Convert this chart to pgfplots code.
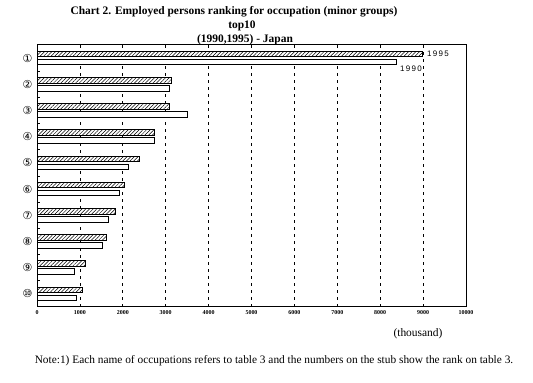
\documentclass[border=0pt]{standalone}
\usepackage{fontspec}
\setmainfont{Liberation Serif}
\newfontfamily\dejavu{DejaVu Sans}
\newfontfamily\lsans{Liberation Sans}
\usepackage{pgfplots}
\pgfplotsset{compat=1.18}
\usetikzlibrary{patterns.meta}

\begin{document}
\begin{tikzpicture}
\path[use as bounding box] (0,0) rectangle (533bp,383bp);
\begin{axis}[
  at={(37bp,76bp)}, anchor=south west,
  scale only axis, width=429bp, height=262bp,
  xbar, bar width=5.5bp,
  xmin=0, xmax=10000, ymin=0.5, ymax=10.5,
  scaled x ticks=false,
  xtick={0,1000,2000,3000,4000,5000,6000,7000,8000,9000,10000},
  xticklabels={0,1000,2000,3000,4000,5000,6000,7000,8000,9000,10000},
  xtick pos=both, tick align=inside, major tick length=3bp,
  xmajorgrids,
  major grid style={black, dash pattern=on 3bp off 4bp, line width=0.8bp},
  ytick={1.5,2.5,3.5,4.5,5.5,6.5,7.5,8.5,9.5}, yticklabels={}, ytick pos=left,
  extra y ticks={1,2,3,4,5,6,7,8,9,10},
  extra y tick labels={⑩,⑨,⑧,⑦,⑥,⑤,④,③,②,①},
  extra y tick style={major tick length=0pt},
  yticklabel style={font=\dejavu\fontsize{11}{12}\selectfont, xshift=-1bp},
  xticklabel style={font=\bfseries\fontsize{6}{7}\selectfont},
  axis line style={line width=1bp},
  tick style={black, line width=0.8bp},
]
\addplot[draw=black, line width=1bp, bar shift=4bp,
  preaction={fill=white},
  pattern={Lines[angle=45,distance=2.6bp,line width=0.5bp]}]
  coordinates {(8980,10) (3124,9) (3080,8) (2750,7) (2400,6) (2030,5) (1820,4) (1610,3) (1125,2) (1055,1)};
\addplot[draw=black, fill=white, line width=1bp, bar shift=-4bp]
  coordinates {(8370,10) (3080,9) (3500,8) (2730,7) (2125,6) (1915,5) (1660,4) (1520,3) (870,2) (915,1)};
\node[anchor=west, inner sep=0pt, yshift=4bp, font=\lsans\fontsize{8}{9}\selectfont] at (axis cs:9090,10) {1\,9\,9\,5};
\node[anchor=west, inner sep=0pt, yshift=-11bp, font=\lsans\fontsize{8}{9}\selectfont] at (axis cs:8460,10) {1\,9\,9\,0};
\end{axis}
\node[font=\bfseries\fontsize{11.5}{13}\selectfont] at (234bp,371bp) {Chart 2. Employed persons ranking for occupation (minor groups)};
\node[font=\bfseries\fontsize{11.5}{13}\selectfont] at (242bp,357bp) {top10};
\node[font=\bfseries\fontsize{11.5}{13}\selectfont] at (245bp,343bp) {(1990,1995) - Japan};
\node[font=\fontsize{11.5}{13}\selectfont] at (418bp,49bp) {(thousand)};
\node[font=\fontsize{11.4}{13}\selectfont] at (274bp,22bp) {Note:1) Each name of occupations refers to table 3 and the numbers on the stub show the rank on table 3.};
\end{tikzpicture}
\end{document}
